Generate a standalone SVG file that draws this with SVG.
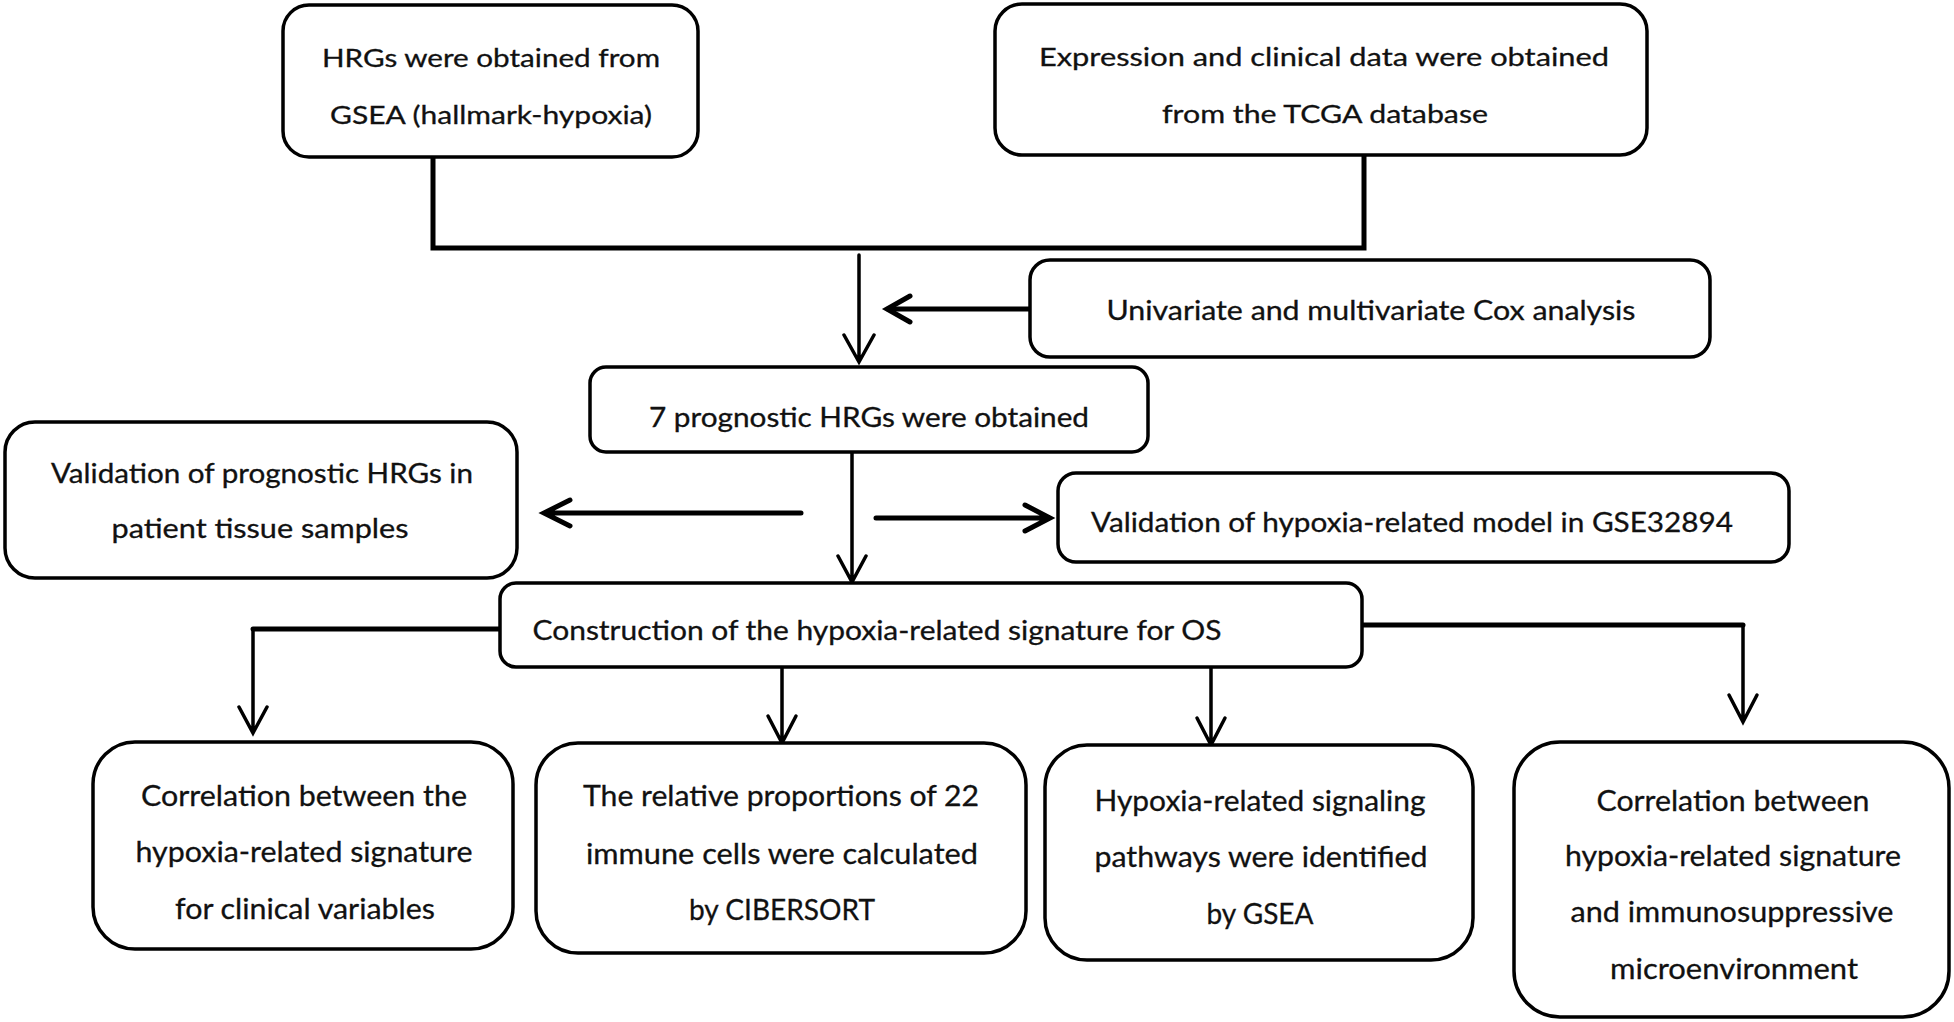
<svg xmlns="http://www.w3.org/2000/svg" width="1954" height="1022" viewBox="0 0 1954 1022">
<style>
.box{fill:#fff;stroke:#000;stroke-width:3.5}
.t{font-family:Lato,"Liberation Sans",sans-serif;fill:#111;text-anchor:middle;stroke:#111;stroke-width:0.3}
.top{font-size:25px}
.mid{font-size:26px}
.bot{font-size:29px}
.ln{fill:none;stroke:#000;stroke-linecap:round;stroke-linejoin:miter}
.thin{stroke-width:3.5}
.thick{stroke-width:5}
</style>
<rect width="1954" height="1022" fill="#fff"/>
<g id="connectors">
<path class="ln thick" d="M433 157 V248 H1364 V155"/>
<path class="ln thin" d="M859 255 V361 M844 335 L859 362 L874 335"/>
<path class="ln thick" d="M1030 309 H888"/>
<path class="ln thick" d="M910 296 L887 309 L910 322"/>
<path class="ln thin" d="M852 452 V581 M838 556 L852 582 L866 556"/>
<path class="ln thick" d="M801 513 H545 M570 500 L544 513 L570 526"/>
<path class="ln thick" d="M876 518 H1049 M1025 505 L1050 518 L1025 531"/>
<path class="ln thick" d="M500 629 H253"/>
<path class="ln thin" d="M253 629 V732 M239 707 L253 733 L267 707"/>
<path class="ln thin" d="M782 667 V742 M768 716 L782 743 L796 716"/>
<path class="ln thin" d="M1211 667 V744 M1197 718 L1211 745 L1225 718"/>
<path class="ln thick" d="M1362 625 H1743"/>
<path class="ln thin" d="M1743 625 V721 M1729 695 L1743 722 L1757 695"/>
</g>
<g id="n1">
<rect class="box" x="283" y="5" width="415" height="152" rx="26"/>
<text class="t top" x="491" y="67" textLength="338" lengthAdjust="spacingAndGlyphs">HRGs were obtained from</text>
<text class="t top" x="491" y="124" textLength="322" lengthAdjust="spacingAndGlyphs">GSEA (hallmark-hypoxia)</text>
</g>
<g id="n2">
<rect class="box" x="995" y="4" width="652" height="151" rx="27"/>
<text class="t top" x="1324" y="66" textLength="570" lengthAdjust="spacingAndGlyphs">Expression and clinical data were obtained</text>
<text class="t top" x="1325" y="123" textLength="326" lengthAdjust="spacingAndGlyphs">from the TCGA database</text>
</g>
<g id="n3">
<rect class="box" x="1030" y="260" width="680" height="97" rx="20"/>
<text class="t mid" x="1371" y="320" textLength="529" lengthAdjust="spacingAndGlyphs">Univariate and multivariate Cox analysis</text>
</g>
<g id="n4">
<rect class="box" x="590" y="367" width="558" height="85" rx="16"/>
<text class="t mid" x="869" y="427" textLength="440" lengthAdjust="spacingAndGlyphs">7 prognostic HRGs were obtained</text>
</g>
<g id="n5">
<rect class="box" x="5" y="422" width="512" height="156" rx="30"/>
<text class="t mid" x="262" y="483" textLength="422" lengthAdjust="spacingAndGlyphs">Validation of prognostic HRGs in</text>
<text class="t mid" x="260" y="538" textLength="297" lengthAdjust="spacingAndGlyphs">patient tissue samples</text>
</g>
<g id="n6">
<rect class="box" x="1058" y="473" width="731" height="89" rx="18"/>
<text class="t mid" x="1412" y="532" textLength="642" lengthAdjust="spacingAndGlyphs">Validation of hypoxia-related model in GSE32894</text>
</g>
<g id="n7">
<rect class="box" x="500" y="583" width="862" height="84" rx="16"/>
<text class="t mid" x="877" y="640" textLength="689" lengthAdjust="spacingAndGlyphs">Construction of the hypoxia-related signature for OS</text>
</g>
<g id="n8">
<rect class="box" x="93" y="742" width="420" height="207" rx="42"/>
<text class="t bot" x="304" y="806" textLength="326" lengthAdjust="spacingAndGlyphs">Correlation between the</text>
<text class="t bot" x="304" y="862" textLength="337" lengthAdjust="spacingAndGlyphs">hypoxia-related signature</text>
<text class="t bot" x="305" y="919" textLength="260" lengthAdjust="spacingAndGlyphs">for clinical variables</text>
</g>
<g id="n9">
<rect class="box" x="536" y="743" width="490" height="210" rx="42"/>
<text class="t bot" x="781" y="806" textLength="396" lengthAdjust="spacingAndGlyphs">The relative proportions of 22</text>
<text class="t bot" x="782" y="864" textLength="392" lengthAdjust="spacingAndGlyphs">immune cells were calculated</text>
<text class="t bot" x="782" y="920" textLength="186" lengthAdjust="spacingAndGlyphs">by CIBERSORT</text>
</g>
<g id="n10">
<rect class="box" x="1045" y="745" width="428" height="215" rx="42"/>
<text class="t bot" x="1260" y="811" textLength="331" lengthAdjust="spacingAndGlyphs">Hypoxia-related signaling</text>
<text class="t bot" x="1261" y="867" textLength="333" lengthAdjust="spacingAndGlyphs">pathways were identified</text>
<text class="t bot" x="1260" y="924" textLength="107" lengthAdjust="spacingAndGlyphs">by GSEA</text>
</g>
<g id="n11">
<rect class="box" x="1514" y="742" width="435" height="275" rx="46"/>
<text class="t bot" x="1733" y="811" textLength="273" lengthAdjust="spacingAndGlyphs">Correlation between</text>
<text class="t bot" x="1733" y="866" textLength="336" lengthAdjust="spacingAndGlyphs">hypoxia-related signature</text>
<text class="t bot" x="1732" y="922" textLength="323" lengthAdjust="spacingAndGlyphs">and immunosuppressive</text>
<text class="t bot" x="1734" y="979" textLength="248" lengthAdjust="spacingAndGlyphs">microenvironment</text>
</g>
</svg>
